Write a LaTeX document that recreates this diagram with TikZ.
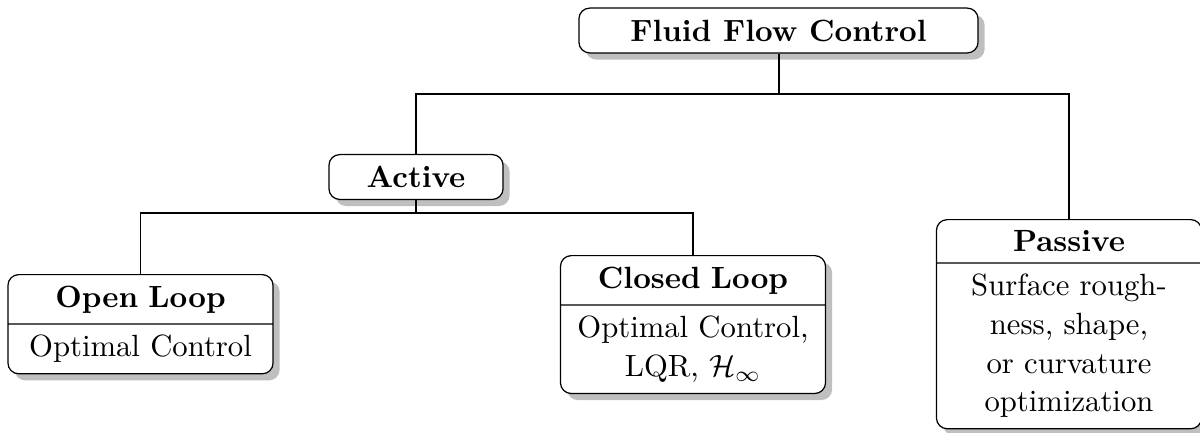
\documentclass[tikz,border=0pt]{standalone}
\usetikzlibrary{shapes.multipart,shadows}
\begin{document}
\begin{tikzpicture}[x=0.3257pt,y=-0.3257pt,
  box/.style={draw,fill=white,rounded corners=3.5pt,line width=0.4pt,
    drop shadow={fill=black!50,opacity=0.5}},
  single/.style={box,minimum height=14.6pt,inner sep=3.33pt,font=\bfseries},
  splitbox/.style={box,rectangle split,rectangle split parts=2,
    text width=2.8cm,align=center,inner ysep=3.4pt,
    font={\fontsize{10pt}{12.6pt}\selectfont}},
  conn/.style={line width=0.65pt}]
\useasboundingbox (0,0) rectangle (1200,432);
\node[single,minimum width=130pt] (top) at (778.5,30.5) {Fluid Flow Control};
\node[single,minimum width=56.7pt] (active) at (416,177) {Active};
\node[splitbox,anchor=north] (open) at (140.5,274)
  {\textbf{Open Loop}\nodepart{two}Optimal Control};
\node[splitbox,anchor=north] (closed) at (693,255)
  {\textbf{Closed Loop}\nodepart{two}Optimal Control,\\LQR, $\mathcal{H}_\infty$};
\node[splitbox,anchor=north] (passive) at (1069,219)
  {\textbf{Passive}\nodepart{two}Surface rough-\\ness, shape,\\or curvature\\optimization};
\coordinate (bus1) at (0,94);
\coordinate (bus2) at (0,213);
\draw[conn] (top.south) -- (top.south |- bus1) -| (active.north);
\draw[conn] (top.south |- bus1) -| (passive.north);
\draw[conn] (active.south) -- (active.south |- bus2) -| (open.north);
\draw[conn] (active.south |- bus2) -| (closed.north);
\end{tikzpicture}
\end{document}
